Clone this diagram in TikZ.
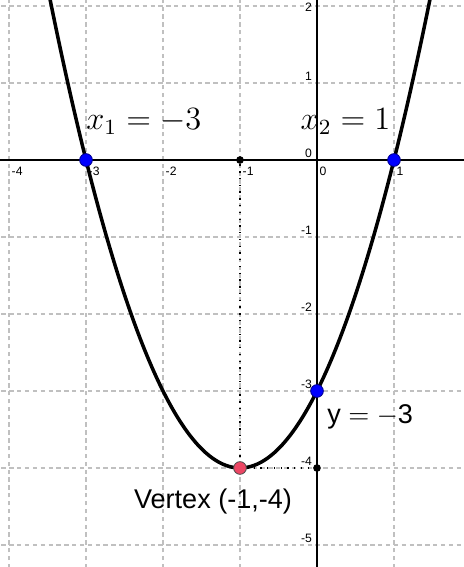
\documentclass[tikz,border=0pt]{standalone}
\usepackage[no-math]{fontspec}
\setmainfont{Liberation Sans}
\definecolor{vertexpink}{RGB}{236,70,100}
\definecolor{gridgray}{RGB}{192,192,192}

\begin{document}
\begin{tikzpicture}[x=1cm,y=1cm,
  gridline/.style={gridgray, line width=0.4pt, dash pattern=on 1.6pt off 1.3pt},
  axis/.style={black, line width=0.45pt},
  ticklab/.style={font=\fontsize{4.5}{5}\selectfont, inner sep=0.8pt},
  mathlab/.style={font=\fontsize{11.5}{14}\selectfont, inner sep=0pt},
  txtlab/.style={font=\fontsize{10}{12}\selectfont, inner sep=0pt},
  bluedot/.style={circle, fill=blue, draw=blue!55!black, line width=0.3pt, inner sep=0pt, minimum size=0.165cm},
  blackdot/.style={circle, fill=black, inner sep=0pt, minimum size=0.1cm},
  vertexdot/.style={circle, fill=vertexpink, draw=black!70, line width=0.3pt, inner sep=0pt, minimum size=0.165cm},
  guide/.style={black, line width=0.5pt, dotted}]
\useasboundingbox (-4.117,-5.286) rectangle (1.909,2.078);
\clip (-4.117,-5.286) rectangle (1.909,2.078);
% grid
\foreach \i in {-4,...,1} \draw[gridline] (\i,-5.3) -- (\i,2.1);
\foreach \j in {-5,...,2} \draw[gridline] (-4.2,\j) -- (2,\j);
% axes
\draw[axis] (-4.2,0) -- (2,0);
\draw[axis] (0,-5.3) -- (0,2.1);
% tick labels
\foreach \i in {-4,...,1} \node[ticklab, anchor=north west] at (\i,-0.06) {\i};
\foreach \j in {-5,...,1} \node[ticklab, anchor=south east] at (-0.03,\j) {\j};
\node[ticklab, anchor=north east] (ytop) at (-0.03,2.075) {2};
% parabola
\draw[line width=1.3pt, domain=-3.5:1.5, samples=120, smooth] plot (\x,{(\x)*(\x)+2*(\x)-3});
% points
\node[blackdot] (top) at (-1,0) {};
\node[blackdot] (yfoot) at (0,-4) {};
\node[vertexdot] (vertex) at (-1,-4) {};
\node[bluedot] (xone) at (-3,0) {};
\node[bluedot] (xtwo) at (1,0) {};
\node[bluedot] (yint) at (0,-3) {};
\draw[guide] (top) -- (vertex);
\draw[guide] (vertex) -- (yfoot);
% labels
\node[mathlab] (xonelab) at (-2.25,0.5) {$x_1 = -3$};
\node[mathlab] (xtwolab) at (0.37,0.5) {$x_2 = 1$};
\node[txtlab] (ylab) at (0.69,-3.33) {y $= -$3};
\node[txtlab] (vlab) at (-1.35,-4.44) {Vertex (-1,-4)};
\end{tikzpicture}
\end{document}
